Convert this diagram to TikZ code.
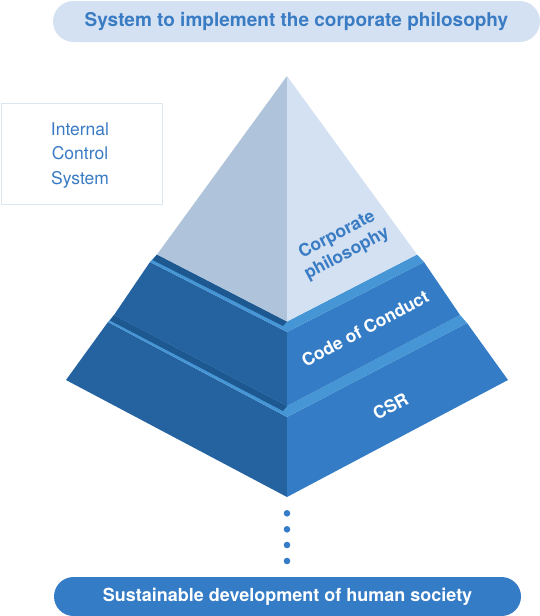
\documentclass[tikz,border=0pt]{standalone}
\usepackage{fontspec}
\setmainfont{TeX Gyre Heros}
\definecolor{pyrL}{HTML}{AFC4DA}
\definecolor{pyrR}{HTML}{D4E1F2}
\definecolor{faceL}{HTML}{2463A0}
\definecolor{faceR}{HTML}{357CC6}
\definecolor{bandL}{HTML}{4696D6}
\definecolor{bandD}{HTML}{1D5890}
\definecolor{txtB}{HTML}{3A7CC4}
\definecolor{boxE}{HTML}{DCE5F0}
\begin{document}
\begin{tikzpicture}[x=1pt,y=-1pt,
  banner/.style={rounded corners=#1, inner sep=0pt, align=center},
  lbl/.style={font=\fontsize{17.5}{21}\selectfont\bfseries, align=center, inner sep=0pt},
  dotc/.style={circle, fill=faceR, inner sep=0pt, minimum size=6.6pt}]
\useasboundingbox (0,0) rectangle (540,616);

% top banner
\node[banner=20.5pt, fill=pyrR, minimum width=487pt, minimum height=41pt, text=txtB,
  font=\fontsize{19}{22}\selectfont\bfseries] (top) at (296.5,21.5)
  {System to implement the corporate philosophy};

% internal control box
\node[draw=boxE, line width=1pt, fill=white, minimum width=161pt, minimum height=101pt,
  inner sep=0pt, text=txtB, align=center, font=\fontsize{17.5}{24.5}\selectfont] (ics) at (81.5,153.5) {};
\node[text=txtB, align=center, inner sep=0pt, font=\fontsize{17.5}{24.5}\selectfont]
  (icstxt) at (80,155.5) {Internal\\Control\\System};

% ---- CSR layer ----
\fill[faceL] (108,322) -- (287,417) -- (287,497) -- (66,380) -- cycle;
\fill[faceR] (287,417) -- (467,323) -- (508,380) -- (287,497) -- cycle;
\fill[bandL] (287,406) -- (460,315) -- (467,323) -- (287,417) -- cycle;
\fill[bandL] (114,315) -- (287,406) -- (287,417) -- (108,322) -- cycle;
\fill[bandD] (114,315) -- (287,406) -- (283,411) -- (110,320.5) -- cycle;

% ---- Code of Conduct layer ----
\fill[faceL] (150,262) -- (287,332) -- (287,406) -- (114,315) -- cycle;
\fill[faceR] (287,332) -- (424,262) -- (460,315) -- (287,406) -- cycle;
\fill[bandL] (287,321.5) -- (417,254.5) -- (424,262) -- (287,332) -- cycle;
\fill[bandL] (157,254.5) -- (287,321.5) -- (287,332) -- (150,262) -- cycle;
\fill[bandD] (157,254.5) -- (287,321.5) -- (283,326) -- (152.5,260) -- cycle;

% ---- top pyramid ----
\fill[pyrL] (287,76) -- (287,321.5) -- (157,254.5) -- cycle;
\fill[pyrR] (287,76) -- (417,254.5) -- (287,321.5) -- cycle;

% labels
\node[lbl, rotate=28, text=txtB] (cp) at (342,244.5) {Corporate\\philosophy};
\node[lbl, rotate=28, text=white] (coc) at (365,328.5) {Code of Conduct};
\node[lbl, rotate=28, text=white] (csr) at (390.5,406.5) {CSR};

% dots
\node[dotc] (d1) at (287,513.3) {};
\node[dotc] (d2) at (287,529.3) {};
\node[dotc] (d3) at (287,545) {};
\node[dotc] (d4) at (287,561) {};

% bottom banner
\node[banner=19.5pt, fill=faceR, minimum width=467pt, minimum height=39pt, text=white,
  font=\fontsize{18}{22}\selectfont\bfseries] (bot) at (287.5,596.5)
  {Sustainable development of human society};
\end{tikzpicture}
\end{document}
